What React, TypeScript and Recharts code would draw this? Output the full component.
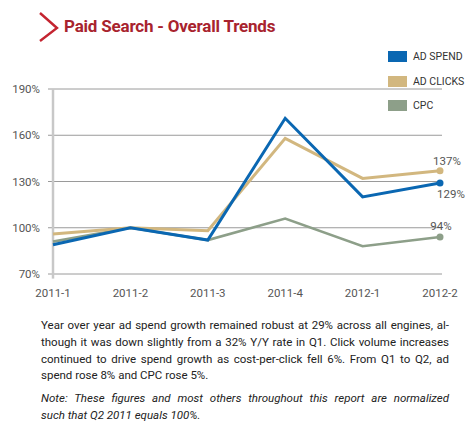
import React from 'react';
import { LineChart, Line, XAxis, YAxis, CartesianGrid, ReferenceLine, LabelList } from 'recharts';

const quarters = ['2011-1', '2011-2', '2011-3', '2011-4', '2012-1', '2012-2'];
const adSpend = [89, 100, 92, 171, 120, 129];
const adClicks = [96, 100, 98, 158, 132, 137];
const cpc = [91, 100, 92, 106, 88, 94];
const yTicks = [70, 100, 130, 160, 190];

const C_SPEND = '#0a67b2';
const C_CLICKS = '#d2b77f';
const C_CPC = '#8d9f89';

const data = quarters.map((q, i) => ({ q, spend: adSpend[i], clicks: adClicks[i], cpc: cpc[i] }));
const LAST = quarters.length - 1;

/** 只在最后一个点画圆点 */
const endDot = (color: string) => (p: any) => {
  if (p.index !== LAST) return <g key={p.index} />;
  return <circle key={p.index} cx={p.cx} cy={p.cy} r={3.5} fill={color} stroke="none" />;
};

/** 最后一个点的百分比标签 */
const endLabel = (dx: number, dy: number) => (p: any) => {
  if (p.index !== LAST) return null;
  return (
    <text x={p.x + dx} y={p.y + dy} textAnchor="middle" dominantBaseline="central"
      fontSize={11.5} fill="#555" fontFamily="Roboto, sans-serif">
      {p.value}%
    </text>
  );
};

const legend = [
  { name: 'AD SPEND', color: C_SPEND, top: 51 },
  { name: 'AD CLICKS', color: C_CLICKS, top: 76 },
  { name: 'CPC', color: C_CPC, top: 100 },
];

export default function App() {
  return (
    <div style={styles.page}>
      <svg width={30} height={40} style={{ position: 'absolute', left: 30, top: 8 }}>
        <polyline points="10,5 27,20 10,33" fill="none" stroke="#c42430" strokeWidth={2.4} />
      </svg>
      <div style={styles.title}>Paid Search - Overall Trends</div>

      {legend.map(l => (
        <div key={l.name} style={{ ...styles.legendItem, top: l.top }}>
          <span style={{ ...styles.swatch, backgroundColor: l.color }} />
          <span>{l.name}</span>
        </div>
      ))}

      <div style={{ position: 'absolute', left: 0, top: 0 }}>
        <LineChart width={474} height={310} data={data}
          margin={{ top: 89, right: 32, bottom: 6, left: 0 }}>
          <CartesianGrid vertical={false} stroke="#9a9a9a" strokeWidth={1} />
          <XAxis dataKey="q" axisLine={false} tickLine={false} padding={{ left: 5, right: 2 }}
            height={30} tick={{ fontSize: 11.5, fill: '#555', fontFamily: 'Roboto, sans-serif' }} dy={7} />
          <YAxis domain={[70, 190]} ticks={yTicks} axisLine={false} tickLine={false} width={48}
            tickFormatter={v => v + '%'} tick={{ fontSize: 11.5, fill: '#555', fontFamily: 'Roboto, sans-serif' }} />
          <ReferenceLine segment={[{ x: '2011-1', y: 190 }, { x: '2011-1', y: 67 }]}
            stroke="#c8c8c8" strokeWidth={2.5} ifOverflow="visible" />
          <Line dataKey="cpc" stroke={C_CPC} strokeWidth={2.6} dot={endDot(C_CPC)} activeDot={false} isAnimationActive={false}>
            <LabelList dataKey="cpc" content={endLabel(1, -11)} />
          </Line>
          <Line dataKey="clicks" stroke={C_CLICKS} strokeWidth={3} dot={endDot(C_CLICKS)} activeDot={false} isAnimationActive={false}>
            <LabelList dataKey="clicks" content={endLabel(7, -10)} />
          </Line>
          <Line dataKey="spend" stroke={C_SPEND} strokeWidth={3} dot={endDot(C_SPEND)} activeDot={false} isAnimationActive={false}>
            <LabelList dataKey="spend" content={endLabel(11, 11)} />
          </Line>
        </LineChart>
      </div>

      <div style={styles.text}>
        <div style={styles.jl}>Year over year ad spend growth remained robust at 29% across all engines, al-</div>
        <div style={styles.jl}>though it was down slightly from a 32% Y/Y rate in Q1. Click volume increases</div>
        <div style={styles.jl}>continued to drive spend growth as cost-per-click fell 6%. From Q1 to Q2, ad</div>
        <div>spend rose 8% and CPC rose 5%.</div>
        <div style={{ ...styles.jl, fontStyle: 'italic', marginTop: 6 }}>Note: These figures and most others throughout this report are normalized</div>
        <div style={{ fontStyle: 'italic' }}>such that Q2 2011 equals 100%.</div>
      </div>
    </div>
  );
}

const styles: Record<string, React.CSSProperties> = {
  page: {
    position: 'absolute', left: 0, top: 0, width: 474, height: 431,
    background: '#fff', overflow: 'hidden', fontFamily: 'Roboto, sans-serif',
  },
  title: {
    position: 'absolute', left: 64, top: 16, fontSize: 17, fontWeight: 700,
    color: '#a8232e', letterSpacing: -0.2, whiteSpace: 'nowrap',
  },
  legendItem: {
    position: 'absolute', left: 388, display: 'flex', alignItems: 'center',
    fontSize: 10.5, color: '#333', height: 11, whiteSpace: 'nowrap',
  },
  swatch: { display: 'inline-block', width: 19, height: 11, marginRight: 6 },
  text: {
    position: 'absolute', left: 41, top: 317, width: 408,
    fontSize: 11.5, lineHeight: '16.8px', color: '#222',
  },
  jl: { textAlign: 'justify', textAlignLast: 'justify', whiteSpace: 'nowrap' },
};
